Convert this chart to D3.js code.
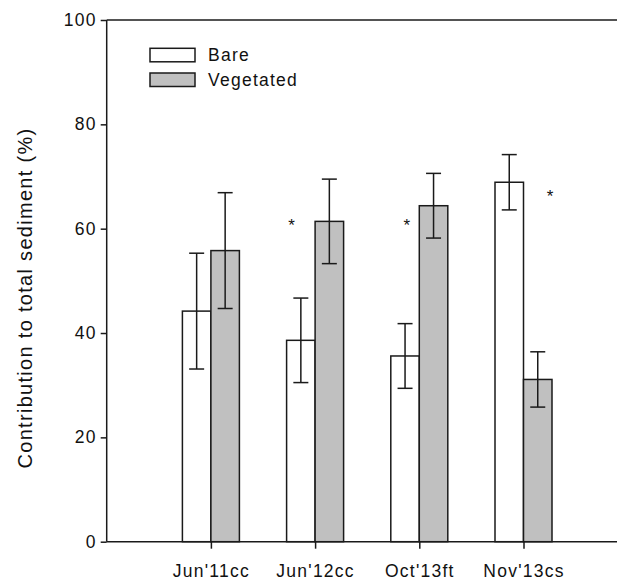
<!DOCTYPE html>
<meta charset="utf-8">
<script src="https://d3js.org/d3.v7.min.js"></script>
<style>
  body { margin: 0; background: #fff; font-family: 'Liberation Sans', Arial, sans-serif; }
  svg text { font-family: 'Liberation Sans', Arial, sans-serif; fill: #111; }
</style>
<body>
<svg id="chart" width="617" height="583"></svg>
</body>
<script>

// data
var categories = ["Jun'11cc", "Jun'12cc", "Oct'13ft", "Nov'13cs"];
var bare = [44.2, 38.6, 35.6, 68.9];
var vegetated = [55.8, 61.4, 64.4, 31.1];
var errors = [11.1, 8.1, 6.2, 5.3];
var yTicks = [0, 20, 40, 60, 80, 100];
// significance stars (x in category units, y in %)
var starX = [1.775, 2.88, 4.255];
var starY = [61.2, 61.2, 66.8];

var svg = d3.select("#chart");

var x = d3.scaleLinear().domain([0, 5]).range([106.7, 627.7]);
var y = d3.scaleLinear().domain([0, 100]).range([541.7, 20]);
var barW = 28.5;
var capW = 15;

var fontSize = 17.5, spacing = 1.25;

// bars
var groups = svg.append("g").selectAll("g")
  .data(categories)
  .enter().append("g");

groups.append("rect")
  .attr("x", function(d, i) { return x(i + 1) - barW; })
  .attr("y", function(d, i) { return y(bare[i]); })
  .attr("width", barW)
  .attr("height", function(d, i) { return y(0) - y(bare[i]); })
  .attr("fill", "#fff")
  .attr("stroke", "#1a1a1a")
  .attr("stroke-width", 1.5);

groups.append("rect")
  .attr("x", function(d, i) { return x(i + 1); })
  .attr("y", function(d, i) { return y(vegetated[i]); })
  .attr("width", barW)
  .attr("height", function(d, i) { return y(0) - y(vegetated[i]); })
  .attr("fill", "#c0c0c0")
  .attr("stroke", "#1a1a1a")
  .attr("stroke-width", 1.5);

// error bars
function errorBar(sel, cx, v, e) {
  sel.append("line")
    .attr("x1", cx).attr("x2", cx)
    .attr("y1", y(v - e)).attr("y2", y(v + e));
  sel.append("line")
    .attr("x1", cx - capW / 2).attr("x2", cx + capW / 2)
    .attr("y1", y(v + e)).attr("y2", y(v + e));
  sel.append("line")
    .attr("x1", cx - capW / 2).attr("x2", cx + capW / 2)
    .attr("y1", y(v - e)).attr("y2", y(v - e));
}

var eb = svg.append("g").attr("stroke", "#1a1a1a").attr("stroke-width", 1.5);
categories.forEach(function(c, i) {
  errorBar(eb, x(i + 1) - barW / 2, bare[i], errors[i]);
  errorBar(eb, x(i + 1) + barW / 2, vegetated[i], errors[i]);
});

// stars
svg.append("g").selectAll("text")
  .data(starX)
  .enter().append("text")
  .attr("x", function(d) { return x(d); })
  .attr("y", function(d, i) { return y(starY[i]) + 8.5; })
  .attr("text-anchor", "middle")
  .attr("font-size", 17)
  .attr("fill", "#222")
  .text("*");

// axes frame
var axis = svg.append("g").attr("stroke", "#1a1a1a").attr("stroke-width", 1.5);
axis.append("line").attr("x1", x(0)).attr("x2", 617).attr("y1", y(100)).attr("y2", y(100));
axis.append("line").attr("x1", x(0)).attr("x2", 617).attr("y1", y(0)).attr("y2", y(0));
axis.append("line").attr("x1", x(0)).attr("x2", x(0)).attr("y1", y(0)).attr("y2", y(100));

// y axis
var yAxis = svg.append("g")
  .attr("transform", "translate(" + x(0) + ",0)")
  .call(d3.axisLeft(y).tickValues(yTicks).tickSize(6).tickPadding(4));
yAxis.select(".domain").remove();
yAxis.selectAll("line").attr("stroke", "#1a1a1a").attr("stroke-width", 1.5);
yAxis.selectAll("text")
  .attr("font-size", fontSize)
  .attr("fill", "#111")
  .style("letter-spacing", spacing + "px");

// x axis
var xAxis = svg.append("g")
  .attr("transform", "translate(0," + y(0) + ")")
  .call(d3.axisBottom(x).tickValues([1, 2, 3, 4])
    .tickFormat(function(d) { return categories[d - 1]; })
    .tickSize(7).tickPadding(16));
xAxis.select(".domain").remove();
xAxis.selectAll("line").attr("stroke", "#1a1a1a").attr("stroke-width", 1.5);
xAxis.selectAll("text")
  .attr("font-size", fontSize)
  .attr("fill", "#111")
  .style("letter-spacing", spacing + "px");

// y axis label
svg.append("text")
  .attr("transform", "translate(32,298) rotate(-90)")
  .attr("text-anchor", "middle")
  .attr("font-size", 20)
  .style("letter-spacing", "1.3px")
  .text("Contribution to total sediment (%)");

// legend
var legend = svg.append("g");
var legendItems = [{ name: "Bare", fill: "#fff" }, { name: "Vegetated", fill: "#c0c0c0" }];
legend.selectAll("rect")
  .data(legendItems)
  .enter().append("rect")
  .attr("x", 150)
  .attr("y", function(d, i) { return 48.3 + i * 24.7; })
  .attr("width", 45)
  .attr("height", 13.5)
  .attr("fill", function(d) { return d.fill; })
  .attr("stroke", "#1a1a1a")
  .attr("stroke-width", 1.5);
legend.selectAll("text")
  .data(legendItems)
  .enter().append("text")
  .attr("x", 208)
  .attr("y", function(d, i) { return 61 + i * 24.7; })
  .attr("font-size", fontSize)
  .style("letter-spacing", spacing + "px")
  .text(function(d) { return d.name; });

</script>
